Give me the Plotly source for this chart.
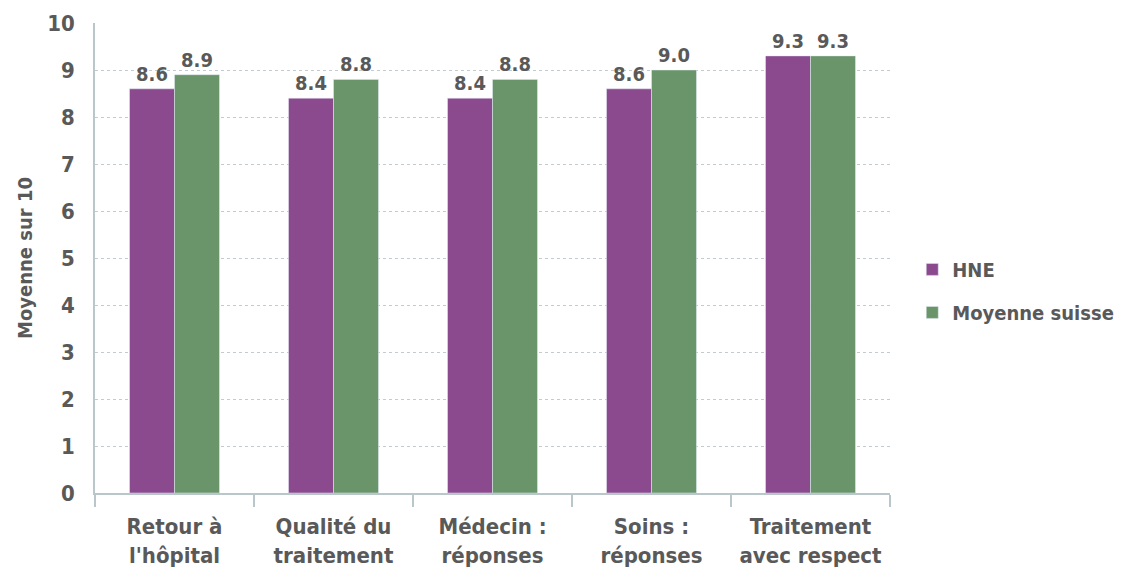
import plotly.graph_objects as go

categories = ["Retour à<br>l'hôpital", "Qualité du<br>traitement", "Médecin :<br>réponses",
              "Soins :<br>réponses", "Traitement<br>avec respect"]
hne = [8.6, 8.4, 8.4, 8.6, 9.3]
suisse = [8.9, 8.8, 8.8, 9.0, 9.3]
y_ticks = list(range(0, 11))

FONT = "DejaVu Sans Condensed, Liberation Sans Narrow, sans-serif"
TXT = "#595959"


def f(size):
    return dict(size=size, color=TXT, family=FONT, weight="bold")


fig = go.Figure()
fig.add_bar(name="HNE", x=categories, y=hne, marker_color="#8B4A8E",
            legendgroup="a",
            text=[f"{v:.1f}" for v in hne], textposition="outside",
            textfont=f(20), cliponaxis=False)
fig.add_bar(name="Moyenne suisse", x=categories, y=suisse, marker_color="#6A9469",
            legendgroup="b",
            text=[f"{v:.1f}" for v in suisse], textposition="outside",
            textfont=f(20), cliponaxis=False)

fig.update_layout(
    width=1133, height=575,
    margin=dict(l=95, r=243, t=23, b=82, autoexpand=False),
    paper_bgcolor="white", plot_bgcolor="white",
    barmode="group", bargap=0.434, bargroupgap=0,
    font=f(20),
    legend=dict(x=1.028, y=0.43, yanchor="middle", xanchor="left",
                font=f(20), traceorder="grouped",
                itemwidth=30, tracegroupgap=14),
)
fig.update_yaxes(range=[0, 10], tickvals=y_ticks, showgrid=True,
                 gridcolor="#c3cbd0", griddash="dot", gridwidth=1,
                 showline=True, linecolor="#b9c6ca", linewidth=1.5,
                 zeroline=False, ticks="", ticklabelstandoff=14,
                 tickfont=f(22),
                 title=dict(text="Moyenne sur 10", standoff=9, font=f(20)))
fig.update_xaxes(showline=True, linecolor="#b9c6ca", linewidth=1.5,
                 ticks="outside", tickson="boundaries", ticklen=12,
                 tickcolor="#b9c6ca", tickwidth=1.5, ticklabelstandoff=13,
                 tickfont=f(22))

fig.write_html("out.html")
